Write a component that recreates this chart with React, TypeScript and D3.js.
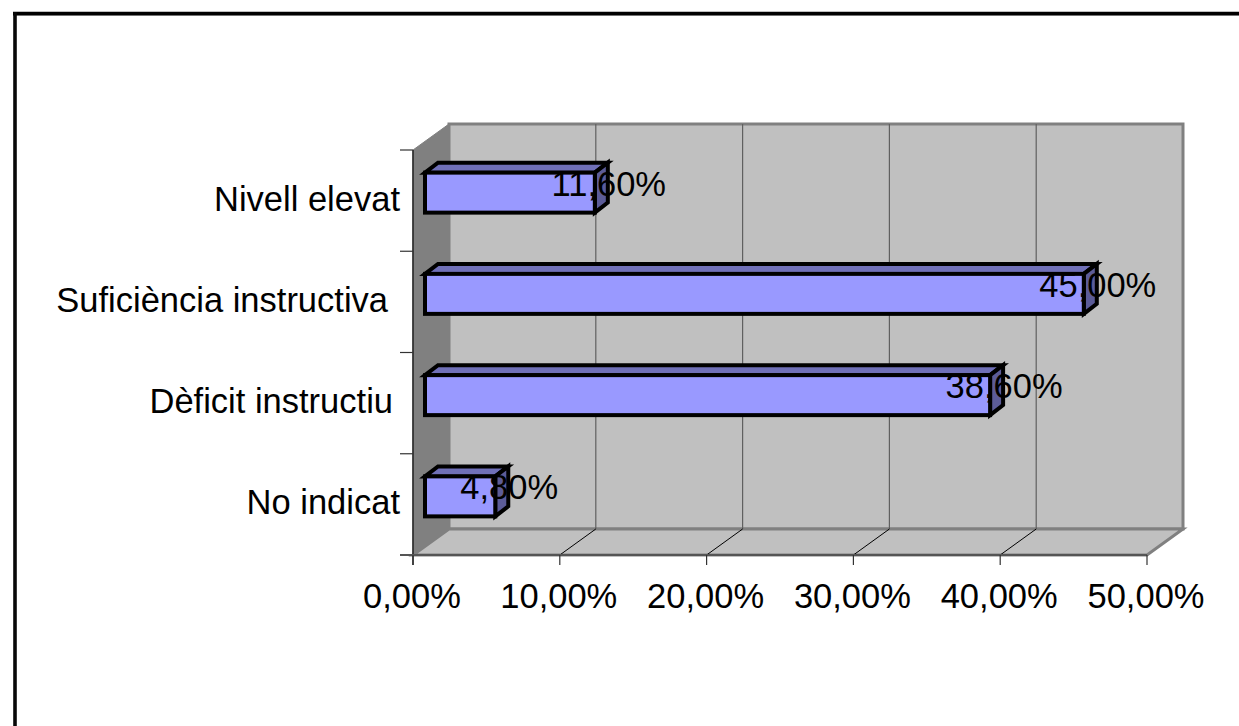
import React from "react";
import * as d3 from "d3";

const categories = ["No indicat", "Dèficit instructiu", "Suficiència instructiva ", "Nivell elevat"];
const values = [4.8, 38.6, 45.0, 11.6];
const valueLabels = ["4,80%", "38,60%", "45,00%", "11,60%"];
const ticks = [0, 10, 20, 30, 40, 50];
const tickLabels = ["0,00%", "10,00%", "20,00%", "30,00%", "40,00%", "50,00%"];

const W = 1239, H = 726;
const FONT = "'Liberation Sans', Arial, sans-serif";
const FS = 34.5;
const x = d3.scaleLinear().domain([0, 50]).range([413, 1147]);
const xBar = d3.scaleLinear().domain([0, 50]).range([425, 1157]);
const y = d3.scaleBand<string>().domain(categories).range([555, 150]);
const DX = 36, DY = -26; // plot depth
const BDX = 13, BDY = -10; // bar depth
const BAR_H = 40;
const pts = (p: [number, number][]) => p.map((q) => q.join(",")).join(" ");

export default function App() {
  const x0 = x(0), x1 = x(50), yB = 555, yT = 150;
  return (
    <svg width={W} height={H} style={{ position: "absolute", left: 0, top: 0, display: "block" }} fontFamily={FONT}>
      <rect x={0} y={0} width={W} height={H} fill="#fff" />
      {/* frame: only the top and left edges are inside the picture */}
      <line x1={13} x2={W} y1={15.5} y2={15.5} stroke="#999" strokeWidth={1} />
      <line x1={13} x2={W} y1={13.5} y2={13.5} stroke="#000" strokeWidth={3.5} />
      <line x1={15} x2={15} y1={12} y2={H} stroke="#080808" strokeWidth={3.6} />
      {/* walls */}
      <polygon points={pts([[x0 + DX, yT + DY], [x1 + DX, yT + DY], [x1 + DX, yB + DY], [x0 + DX, yB + DY]])} fill="#c0c0c0" stroke="#808080" strokeWidth={3} />
      <polygon points={pts([[x0, yT], [x0 + DX, yT + DY], [x0 + DX, yB + DY], [x0, yB]])} fill="#808080" stroke="#808080" />
      <polygon points={pts([[x0, yB], [x0 + DX, yB + DY], [x1 + DX, yB + DY], [x1, yB]])} fill="#c0c0c0" stroke="#808080" strokeWidth={3} />
      {/* grid */}
      {ticks.slice(1, -1).map((t) => (
        <g key={t} fill="none">
          <line x1={x(t) + DX} x2={x(t) + DX} y1={yT + DY} y2={yB + DY} stroke="#606060" strokeWidth={1.2} />
          <line x1={x(t)} x2={x(t) + DX} y1={yB} y2={yB + DY} stroke="#000" strokeWidth={1} />
        </g>
      ))}
      {/* axes */}
      <line x1={x0} x2={x0} y1={yT} y2={yB + 10} stroke="#222" strokeWidth={1.5} />
      <line x1={x0 - 13} x2={x1} y1={yB} y2={yB} stroke="#555" strokeWidth={2} />
      {ticks.map((t, i) => (
        <g key={t}>
          <line x1={x(t)} x2={x(t)} y1={yB} y2={yB + 10} stroke="#333" strokeWidth={1.2} />
          <text x={x(t) - 1} y={607.5} fontSize={FS} textAnchor="middle" fill="#000">{tickLabels[i]}</text>
        </g>
      ))}
      {categories.map((c) => (
        <line key={c} x1={x0 - 13} x2={x0} y1={y(c) as number} y2={y(c) as number} stroke="#333" strokeWidth={1.2} />
      ))}
      {/* bars */}
      {categories.map((c, i) => {
        const cy = (y(c) as number) + y.bandwidth() / 2 - 8;
        const l = xBar(0);
        const r = xBar(values[i]);
        const t = cy - BAR_H / 2, b = cy + BAR_H / 2;
        const common = { stroke: "#000", strokeWidth: 4, strokeLinejoin: "miter" as const };
        return (
          <g key={c}>
            <polygon points={pts([[l, t], [l + BDX, t + BDY], [r + BDX, t + BDY], [r, t]])} fill="#7070b8" {...common} />
            <polygon points={pts([[r, t], [r + BDX, t + BDY], [r + BDX, b + BDY], [r, b]])} fill="#5c5c98" {...common} />
            <rect x={l} y={t} width={r - l} height={b - t} fill="#9999ff" {...common} />
          </g>
        );
      })}
      {/* category labels */}
      {categories.map((c, i) => {
        const cy = (y(c) as number) + y.bandwidth() / 2;
        const right = [400, 393, 388, 400][i];
        return (
          <text key={c} x={right} y={cy + 10} fontSize={FS} textAnchor="end" fill="#000">{c.trim()}</text>
        );
      })}
      {/* value labels */}
      {categories.map((c, i) => {
        const cy = (y(c) as number) + y.bandwidth() / 2 - 8;
        return (
          <text key={c} x={xBar(values[i]) + 14} y={cy + 3} fontSize={FS} textAnchor="middle" fill="#000">{valueLabels[i]}</text>
        );
      })}
    </svg>
  );
}
